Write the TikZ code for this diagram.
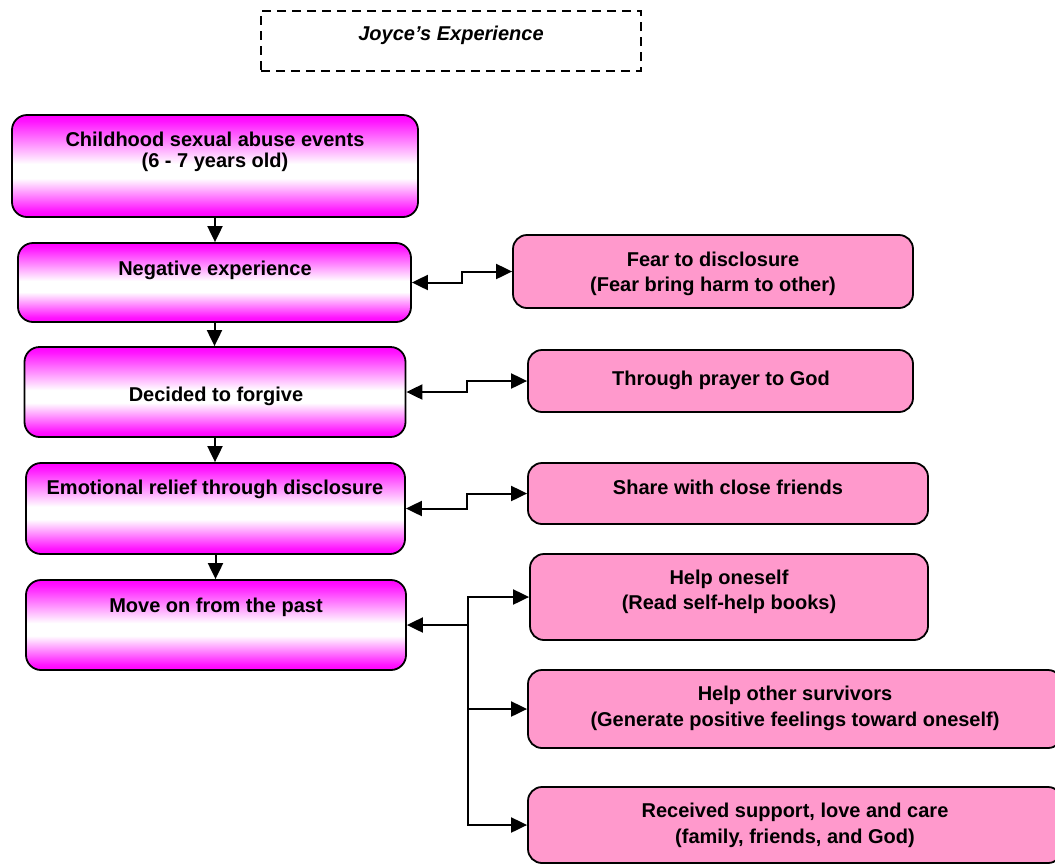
\documentclass[tikz,border=0pt]{standalone}
\usepackage{fontspec}
\setmainfont{Liberation Sans}
\usetikzlibrary{arrows.meta}

% vertical glow: magenta at top and bottom, white band just below the middle
\pgfdeclareverticalshading{boxglow}{100bp}{%
  color(0bp)=(magenta); color(25bp)=(magenta); color(28bp)=(magenta!92!white);
  color(44bp)=(white); color(51bp)=(white); color(72bp)=(magenta!92!white);
  color(75bp)=(magenta); color(100bp)=(magenta)}
\definecolor{rosefill}{HTML}{FF99CC}

\tikzset{
  stagebox/.style={draw=black, line width=1.8pt, rounded corners=15pt,
    shading=boxglow, inner sep=0pt},
  sidebox/.style={draw=black, line width=1.8pt, rounded corners=14pt,
    fill=rosefill, inner sep=0pt},
  titlebox/.style={draw=black, line width=1.5pt, dash pattern=on 9pt off 6pt,
    inner sep=0pt},
  lbl/.style={inner sep=0pt, anchor=north, align=center,
    font=\bfseries\fontsize{20}{25}\selectfont},
  tip/.tip={Triangle[length=16pt,width=15pt]},
  flow/.style={line width=2pt, -tip},
  both/.style={line width=2pt, tip-tip}
}

\begin{document}
\begin{tikzpicture}[x=1pt, y=-1pt]
\useasboundingbox (0,0) rectangle (1055,863);
\clip (0,0) rectangle (1055,863);

% heading
\node[titlebox, minimum width=380pt, minimum height=60pt] (head) at (451,41) {};
\node[lbl, font=\bfseries\itshape\fontsize{20}{25}\selectfont] (headtxt) at (451,26) {Joyce’s Experience};

% main sequence
\node[stagebox, minimum width=406pt, minimum height=102pt] (b1) at (215,166) {};
\node[stagebox, minimum width=393pt, minimum height=79pt]  (b2) at (214.5,282.5) {};
\node[stagebox, minimum width=381pt, minimum height=90pt]  (b3) at (215,392) {};
\node[stagebox, minimum width=379pt, minimum height=91pt]  (b4) at (215.5,508.5) {};
\node[stagebox, minimum width=380pt, minimum height=90pt]  (b5) at (216,625) {};

\node[lbl, font=\bfseries\fontsize{20}{21}\selectfont] (t1) at (215,132) {Childhood sexual abuse events\\(6 - 7 years old)};
\node[lbl] (t2) at (215,261) {Negative experience};
\node[lbl] (t3) at (216,387) {Decided to forgive};
\node[lbl] (t4) at (215,479.5) {Emotional relief through disclosure};
\node[lbl] (t5) at (216,598) {Move on from the past};

% side boxes
\node[sidebox, minimum width=400pt, minimum height=73pt] (sa) at (713,271.5) {};
\node[sidebox, minimum width=385pt, minimum height=62pt] (sb) at (720.5,381) {};
\node[sidebox, minimum width=400pt, minimum height=61pt] (sc) at (728,493.5) {};
\node[sidebox, minimum width=398pt, minimum height=86pt] (sd) at (729,597) {};
\node[sidebox, minimum width=534pt, minimum height=78pt] (se) at (795,709) {};
\node[sidebox, minimum width=534pt, minimum height=76pt] (sf) at (795,825) {};

\node[lbl] (ta) at (713,252) {Fear to disclosure\\(Fear bring harm to other)};
\node[lbl] (tb) at (721,371) {Through prayer to God};
\node[lbl] (tc) at (728,480) {Share with close friends};
\node[lbl, font=\bfseries\fontsize{20}{24.5}\selectfont] (td) at (729,570) {Help oneself\\(Read self-help books)};
\node[lbl, font=\bfseries\fontsize{20}{26}\selectfont] (te) at (795,686) {Help other survivors\\(Generate positive feelings toward oneself)};
\node[lbl, font=\bfseries\fontsize{20}{26}\selectfont] (tf) at (795,803) {Received support, love and care\\(family, friends, and God)};

% downward steps
\draw[flow] (b1.south) -- (b1.south |- b2.north);
\draw[flow] (b2.south) -- (b2.south |- b3.north);
\draw[flow] (b3.south) -- (b3.south |- b4.north);
\draw[flow] (b4.south) -- (b4.south |- b5.north);

% two-way links with a small step
\draw[both] (b2.east) -- (462,282.5) |- (sa.west);
\draw[both] (b3.east) -- (467,392) |- (sb.west);
\draw[both] (b4.east) -- (467,508.5) |- (sc.west);

% fan-out from the last stage
\coordinate (hub) at (468,625);
\draw[flow] (hub) -- (b5.east);
\draw[flow] (hub) |- (sd.west);
\draw[flow] (hub) |- (se.west);
\draw[flow] (hub) |- (sf.west);
\end{tikzpicture}
\end{document}
